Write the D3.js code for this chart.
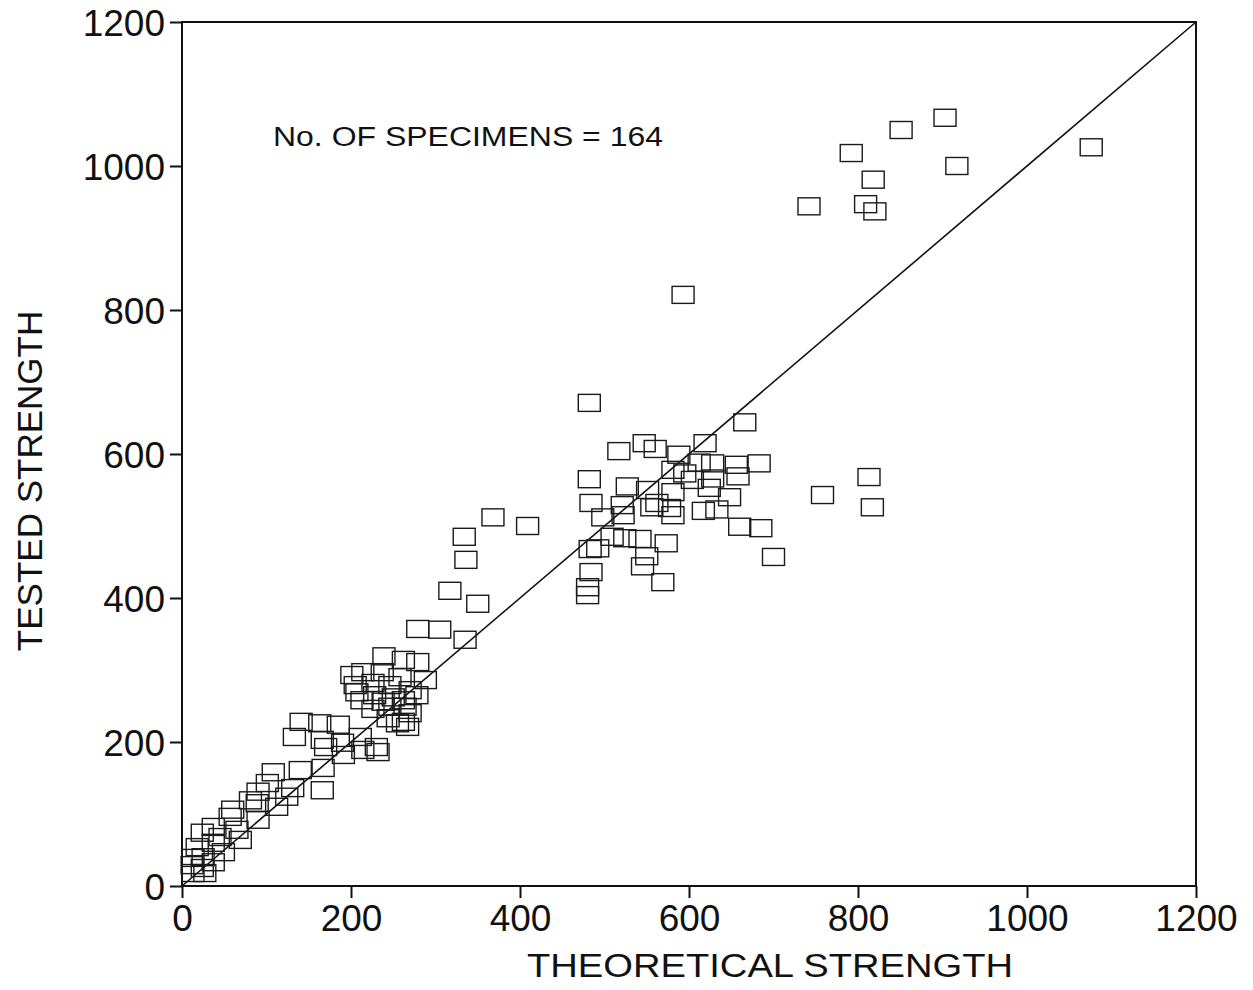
<!DOCTYPE html>
<meta charset="utf-8">
<style>
body { margin: 0; background: #fff; }
.frame { fill: none; stroke: #111; stroke-width: 2px; }
.diag { stroke: #111; stroke-width: 1.6px; }
.box { fill: none; stroke: #1a1a1a; stroke-width: 1.4px; }
.axis text { font-family: "Liberation Sans", Arial, sans-serif; font-size: 37px; fill: #111; }
.axis line { stroke: #111; stroke-width: 2px; }
.title { font-family: "Liberation Sans", Arial, sans-serif; fill: #111; }
</style>
<body>
<script src="https://cdn.jsdelivr.net/npm/d3@7"></script>
<script>
// tick values
var ticks = [0, 200, 400, 600, 800, 1000, 1200];

// specimens: theoretical strength (x) and tested strength (y)
var theoretical = [
  1076, 903, 851, 792, 917, 818, 742, 809, 820, 593, 813, 817, 758, 700, 666, 482,
  368, 409, 334, 336, 317, 350, 279, 305, 335,
  482, 484, 483, 492, 484, 480, 480,
  517, 547, 560, 619, 588, 683, 656, 628, 612, 581, 658, 527, 551, 595, 628, 604,
  581, 624, 648, 521, 562, 577, 581, 617, 633, 498, 522, 556, 660, 685, 509, 524,
  542, 573, 550, 545, 569,
  239, 262, 279, 201, 214, 237, 258, 288, 205, 226, 246, 270, 278, 207, 228, 250,
  262, 213, 238, 246, 264, 226, 270, 244, 262, 267, 255, 141, 163, 185, 166, 133,
  170, 190, 211, 214, 191, 230, 232, 167, 140, 108, 101, 131, 166, 90, 124, 89,
  112, 60, 57, 90, 37, 65, 24, 45, 37, 69, 18, 49, 25, 13, 37, 12, 24, 13, 27, 81
];
var tested = [
  1026, 1067, 1050, 1018, 1000, 981, 944, 947, 937, 821, 568, 526, 543, 457, 644, 671,
  512, 500, 485, 453, 410, 392, 357, 356, 342,
  565, 532, 468, 469, 436, 415, 404,
  604, 615, 607, 615, 599, 587, 585, 587, 588, 578, 569, 555, 550, 573, 566, 564,
  547, 553, 540, 529, 532, 525, 515, 521, 523, 512, 515, 526, 499, 497, 485, 483,
  482, 476, 458, 444, 422,
  319, 314, 311, 293, 297, 297, 290, 286, 279, 282, 279, 272, 265, 269, 265, 262,
  258, 258, 256, 249, 249, 246, 240, 233, 228, 221, 226, 228, 226, 224, 203, 207,
  193, 199, 207, 189, 182, 193, 186, 164, 161, 158, 143, 136, 133, 131, 124, 115,
  110, 106, 96, 92, 82, 78, 74, 68, 60, 64, 54, 47, 40, 39, 33, 29, 25, 18, 18, 119
];

var margin = {top: 22, right: 57, bottom: 104, left: 182},
    width = 1014,
    height = 864;

var x = d3.scaleLinear().domain([0, 1200]).range([0, width]);
var y = d3.scaleLinear().domain([0, 1200]).range([height, 0]);

var svg = d3.select("body").append("svg")
    .attr("width", 1253)
    .attr("height", 990);

var g = svg.append("g")
    .attr("transform", "translate(" + margin.left + "," + margin.top + ")");

// axes
var fmt = d3.format("d");
var xAxis = g.append("g")
    .attr("class", "axis")
    .attr("transform", "translate(0," + height + ")")
    .call(d3.axisBottom(x).tickValues(ticks).tickFormat(fmt)
      .tickSizeInner(12).tickSizeOuter(0).tickPadding(7));
var yAxis = g.append("g")
    .attr("class", "axis")
    .call(d3.axisLeft(y).tickValues(ticks).tickFormat(fmt)
      .tickSizeInner(12).tickSizeOuter(0).tickPadding(5));
g.selectAll(".axis .domain").remove();
yAxis.selectAll("text").attr("dy", "0.36em");

// frame
g.append("rect").attr("class", "frame")
    .attr("x", 0).attr("y", 0)
    .attr("width", width).attr("height", height);

// 1:1 line
g.append("line").attr("class", "diag")
    .attr("x1", x(0)).attr("y1", y(0))
    .attr("x2", x(1200)).attr("y2", y(1200));

// specimen boxes
var bw = 22, bh = 17;
g.selectAll(".box")
    .data(d3.range(theoretical.length))
    .enter().append("rect")
    .attr("class", "box")
    .attr("x", function(i) { return x(theoretical[i]) - bw / 2; })
    .attr("y", function(i) { return y(tested[i]) - bh / 2; })
    .attr("width", bw)
    .attr("height", bh);

// annotation
svg.append("text").attr("class", "title")
    .attr("x", 273).attr("y", 146)
    .attr("textLength", 390)
    .attr("lengthAdjust", "spacingAndGlyphs")
    .style("font-size", "27px")
    .text("No. OF SPECIMENS = 164");

// axis titles
svg.append("text").attr("class", "title")
    .attr("x", 527).attr("y", 977)
    .attr("textLength", 486)
    .attr("lengthAdjust", "spacingAndGlyphs")
    .style("font-size", "34px")
    .text("THEORETICAL STRENGTH");

svg.append("text").attr("class", "title")
    .attr("transform", "translate(42,481) rotate(-90)")
    .attr("text-anchor", "middle")
    .style("font-size", "35px")
    .text("TESTED STRENGTH");
</script>
</body>
